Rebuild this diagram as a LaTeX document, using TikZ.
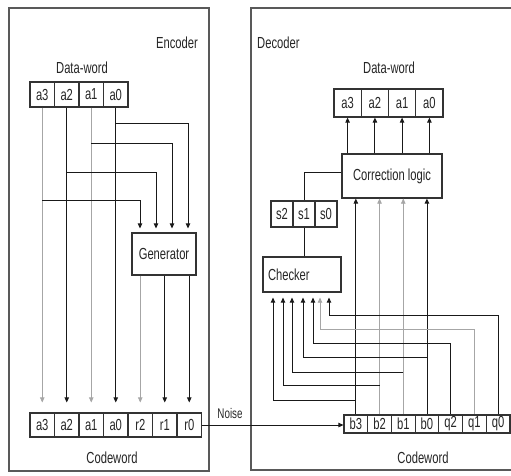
\documentclass[tikz,border=0pt]{standalone}
\usepackage{fontspec}
\setmainfont{Liberation Sans}[FakeStretch=0.7]
\usetikzlibrary{arrows.meta}
\begin{document}
\begin{tikzpicture}[x=1pt,y=-1pt,
  txt/.style={inner sep=0pt, text=black!85, font=\fontsize{16}{18}\selectfont},
  frame/.style={draw=black!65, line width=1.3pt},
  box/.style={draw=black!80, line width=1.2pt, fill=white, inner sep=3pt, text=black!85, font=\fontsize{16}{18}\selectfont},
  ecell/.style={box, minimum width=24.5pt, minimum height=25pt, inner sep=0pt},
  ccell/.style={box, minimum width=24.5pt, minimum height=24pt, inner sep=0pt},
  ddcell/.style={box, minimum width=27.25pt, minimum height=28pt, inner sep=0pt},
  dccell/.style={box, minimum width=23.7pt, minimum height=18pt, inner sep=0pt},
  scell/.style={box, minimum width=22pt, minimum height=26pt, inner sep=0pt},
  dk/.style={draw=black!90, line width=0.9pt},
  lt/.style={draw=black!35, line width=0.7pt},
  tip/.style={-{Triangle[length=5pt,width=4.5pt]}},
]
\useasboundingbox (0,0) rectangle (511,475);
% frames
\draw[frame] (9,8) rectangle (209,471);
\draw[frame] (251,8) rectangle (520,470);
\node[txt, anchor=east] (enclab) at (198,43) {Encoder};
\node[txt, anchor=west] (declab) at (257,43) {Decoder};

% ===== Encoder =====
\node[txt] (edwlab) at (82,68) {Data-word};
\node[ecell] (ea3) at (42.25,94.5) {a3};
\node[ecell] (ea2) at (66.75,94.5) {a2};
\node[ecell] (ea1) at (91.25,94.5) {a1};
\node[ecell] (ea0) at (115.75,94.5) {a0};

\node[box, minimum width=64pt, minimum height=42pt] (gen) at (164,254) {Generator};

\node[ccell] (ca3) at (42.25,425) {a3};
\node[ccell] (ca2) at (66.75,425) {a2};
\node[ccell] (ca1) at (91.25,425) {a1};
\node[ccell] (ca0) at (115.75,425) {a0};
\node[ccell] (cr2) at (140.25,425) {r2};
\node[ccell] (cr1) at (164.75,425) {r1};
\node[ccell] (cr0) at (189.25,425) {r0};
\node[txt] (ecwlab) at (112,458) {Codeword};

% straight data lines
\draw[lt,tip,shorten >=10pt] (ea3.south) -- (ca3.north);
\draw[dk,tip,shorten >=10pt] (ea2.south) -- (ca2.north);
\draw[lt,tip,shorten >=10pt] (ea1.south) -- (ca1.north);
\draw[dk,tip,shorten >=10pt] (ea0.south) -- (ca0.north);

% taps into generator
\coordinate (g0) at (188,123);
\coordinate (g1) at (172,143);
\coordinate (g2) at (156,172);
\coordinate (g3) at (140,200);
\draw[dk,tip,shorten >=4pt] (g0 -| ea0) -- (g0) -- (g0 |- gen.north);
\draw[dk,tip,shorten >=4pt] (g1 -| ea1) -- (g1) -- (g1 |- gen.north);
\draw[dk,tip,shorten >=4pt] (g2 -| ea2) -- (g2) -- (g2 |- gen.north);
\draw[dk,tip,shorten >=4pt] (g3 -| ea3) -- (g3) -- (g3 |- gen.north);

% generator outputs
\draw[lt,tip,shorten >=10pt] (cr2.north |- gen.south) -- (cr2.north);
\draw[dk,tip,shorten >=10pt] (cr1.north |- gen.south) -- (cr1.north);
\draw[dk,tip,shorten >=10pt] (cr0.north |- gen.south) -- (cr0.north);

% ===== Decoder =====
\node[txt] (ddwlab) at (389,68) {Data-word};
\node[ddcell] (da3) at (347.6,103) {a3};
\node[ddcell] (da2) at (374.9,103) {a2};
\node[ddcell] (da1) at (402.1,103) {a1};
\node[ddcell] (da0) at (429.4,103) {a0};

\node[box, minimum width=100pt, minimum height=44pt] (corr) at (392,176) {Correction logic};

\node[scell] (ds2) at (282,214) {s2};
\node[scell] (ds1) at (304,214) {s1};
\node[scell] (ds0) at (326,214) {s0};

\node[box, minimum width=78pt, minimum height=35pt, text width=68pt, align=left, inner sep=4pt] (chk) at (302,274.5) {Checker};

\node[dccell] (db3) at (355.85,424) {b3};
\node[dccell] (db2) at (379.55,424) {b2};
\node[dccell] (db1) at (403.25,424) {b1};
\node[dccell] (db0) at (426.95,424) {b0};
\node[dccell] (dq2) at (450.65,424) {q2};
\node[dccell] (dq1) at (474.35,424) {q1};
\node[dccell] (dq0) at (498.05,424) {q0};
\node[txt] (dcwlab) at (423,458) {Codeword};

% noise
\node[txt] (noise) at (230,413) {\fontsize{14}{16}\selectfont Noise};
\draw[dk,tip] (cr0.east) -- (cr0.east -| db3.west);

% correction logic to data-word
\foreach \c in {da3,da2,da1,da0}
  \draw[dk,tip] (\c.south |- corr.north) -- (\c.south);

% codeword b lines to correction logic
\draw[dk,tip] (db3.north) -- (db3.north |- corr.south);
\draw[lt,tip] (db2.north) -- (db2.north |- corr.south);
\draw[lt,tip] (db1.north) -- (db1.north |- corr.south);
\draw[dk,tip] (db0.north) -- (db0.north |- corr.south);

% syndrome
\draw[dk] (corr.west |- 0,172) -| (ds1.north);
\draw[dk] (ds1.south) -- (ds1.south |- chk.north);

% checker inputs
\coordinate (k1) at (273,400);
\coordinate (k2) at (283,385);
\coordinate (k3) at (292,372);
\coordinate (k4) at (303,357);
\coordinate (k5) at (313,343);
\coordinate (k6) at (320,329);
\coordinate (k7) at (329,315);
\draw[dk,tip,shorten >=5pt] (k1 -| db3) -- (k1) -- (k1 |- chk.south);
\draw[dk,tip,shorten >=5pt] (k2 -| db2) -- (k2) -- (k2 |- chk.south);
\draw[dk,tip,shorten >=5pt] (k3 -| db1) -- (k3) -- (k3 |- chk.south);
\draw[dk,tip,shorten >=5pt] (k4 -| db0) -- (k4) -- (k4 |- chk.south);
\draw[dk,tip,shorten >=5pt] (dq2.north) |- (k5) -- (k5 |- chk.south);
\draw[lt,tip,shorten >=5pt] (dq1.north) |- (k6) -- (k6 |- chk.south);
\draw[dk,tip,shorten >=5pt] (dq0.north) |- (k7) -- (k7 |- chk.south);
\end{tikzpicture}
\end{document}
